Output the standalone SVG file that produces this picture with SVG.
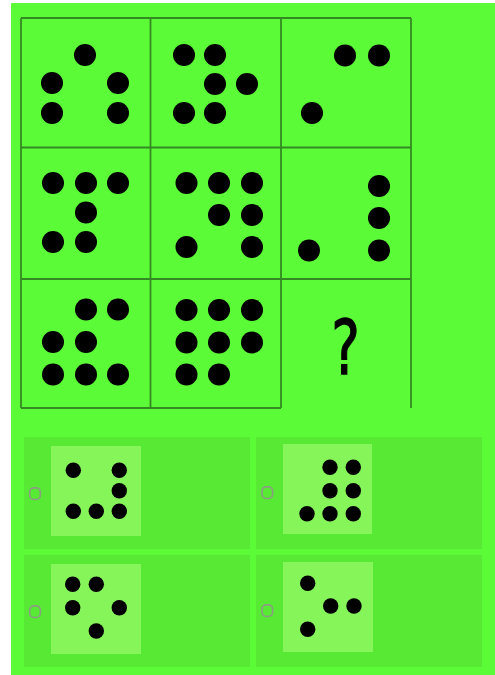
<svg xmlns="http://www.w3.org/2000/svg" width="495" height="675" viewBox="0 0 495 675">
<style>
.bg{fill:#5cfb38}
.ln{stroke:#348a22;stroke-width:1.8;fill:none}
.d{fill:#000}
.panel{fill:#57e933}
.sq{fill:#86f55a}
.radio{fill:none;stroke:#8c9c84;stroke-width:1.6}
.q{font-family:"DejaVu Sans",sans-serif;font-size:75px;fill:#000;stroke:#000;stroke-width:1.3}
</style>
<defs>
<rect id="rb" x="-5.3" y="-5.8" width="10.6" height="11.6" rx="4.2"/>
</defs>
<rect x="0" y="0" width="495" height="675" fill="#ffffff"/>
<rect class="bg" x="11" y="3" width="484" height="672"/>
<g id="grid-lines">
<path class="ln" d="M21,18V408M150.5,18V408M281,18V408M411,18V408M21,18H411M21,147.5H411M21,279H411M21,408H281"/>
</g>
<g id="cell-1-1">
<circle class="d" cx="85" cy="55" r="11"/><circle class="d" cx="52" cy="83" r="11"/><circle class="d" cx="118" cy="83" r="11"/><circle class="d" cx="52" cy="113" r="11"/><circle class="d" cx="118" cy="113" r="11"/>
</g>
<g id="cell-1-2">
<circle class="d" cx="184" cy="55" r="11"/><circle class="d" cx="215" cy="55" r="11"/><circle class="d" cx="215" cy="84" r="11"/><circle class="d" cx="247" cy="84" r="11"/><circle class="d" cx="184" cy="113" r="11"/><circle class="d" cx="215" cy="113" r="11"/>
</g>
<g id="cell-1-3">
<circle class="d" cx="345" cy="55.5" r="11"/><circle class="d" cx="379" cy="55.5" r="11"/><circle class="d" cx="312" cy="113" r="11"/>
</g>
<g id="cell-2-1">
<circle class="d" cx="53" cy="183" r="11"/><circle class="d" cx="86" cy="183" r="11"/><circle class="d" cx="118" cy="183" r="11"/><circle class="d" cx="86" cy="212.5" r="11"/><circle class="d" cx="53" cy="242" r="11"/><circle class="d" cx="86" cy="242" r="11"/>
</g>
<g id="cell-2-2">
<circle class="d" cx="186.5" cy="183" r="11"/><circle class="d" cx="219" cy="183" r="11"/><circle class="d" cx="252" cy="183" r="11"/><circle class="d" cx="219" cy="215" r="11"/><circle class="d" cx="252" cy="215" r="11"/><circle class="d" cx="186.5" cy="247" r="11"/><circle class="d" cx="252" cy="247" r="11"/>
</g>
<g id="cell-2-3">
<circle class="d" cx="379" cy="186" r="11"/><circle class="d" cx="379" cy="218" r="11"/><circle class="d" cx="379" cy="250.5" r="11"/><circle class="d" cx="309" cy="250.5" r="11"/>
</g>
<g id="cell-3-1">
<circle class="d" cx="86" cy="309.5" r="11"/><circle class="d" cx="118" cy="309.5" r="11"/><circle class="d" cx="53" cy="342" r="11"/><circle class="d" cx="86" cy="342" r="11"/><circle class="d" cx="53" cy="374.5" r="11"/><circle class="d" cx="86" cy="374.5" r="11"/><circle class="d" cx="118" cy="374.5" r="11"/>
</g>
<g id="cell-3-2">
<circle class="d" cx="186.5" cy="310" r="11"/><circle class="d" cx="219" cy="310" r="11"/><circle class="d" cx="252" cy="310" r="11"/><circle class="d" cx="186.5" cy="342.5" r="11"/><circle class="d" cx="219" cy="342.5" r="11"/><circle class="d" cx="252" cy="342.5" r="11"/><circle class="d" cx="186.5" cy="374.5" r="11"/><circle class="d" cx="219" cy="374.5" r="11"/>
</g>
<g id="cell-3-3">
<text class="q" transform="translate(345.5,373.5) scale(0.72,1)" x="0" y="0" text-anchor="middle">?</text>
</g>
<g id="option-a">
<rect class="panel" x="24" y="437" width="226" height="112"/>
<use href="#rb" class="radio" x="35" y="493.7"/>
<rect class="sq" x="51" y="446" width="90" height="90"/>
<circle class="d" cx="73.3" cy="470.3" r="7.7"/><circle class="d" cx="119.3" cy="470.3" r="7.7"/><circle class="d" cx="119.3" cy="490.7" r="7.7"/><circle class="d" cx="73.3" cy="511.3" r="7.7"/><circle class="d" cx="96.3" cy="511.3" r="7.7"/><circle class="d" cx="119.3" cy="511.3" r="7.7"/>
</g>
<g id="option-b">
<rect class="panel" x="256" y="437" width="226" height="112"/>
<use href="#rb" class="radio" x="267.3" y="492.7"/>
<rect class="sq" x="283" y="444" width="89" height="90"/>
<circle class="d" cx="330" cy="467.3" r="7.7"/><circle class="d" cx="353.3" cy="467.3" r="7.7"/><circle class="d" cx="330" cy="490.7" r="7.7"/><circle class="d" cx="353.3" cy="490.7" r="7.7"/><circle class="d" cx="307" cy="513.7" r="7.7"/><circle class="d" cx="330" cy="513.7" r="7.7"/><circle class="d" cx="353.3" cy="513.7" r="7.7"/>
</g>
<g id="option-c">
<rect class="panel" x="24" y="555" width="226" height="112"/>
<use href="#rb" class="radio" x="35" y="611.7"/>
<rect class="sq" x="51" y="564" width="90" height="90"/>
<circle class="d" cx="72.7" cy="584.3" r="7.7"/><circle class="d" cx="96.3" cy="584.3" r="7.7"/><circle class="d" cx="72.7" cy="607.7" r="7.7"/><circle class="d" cx="119.3" cy="607.7" r="7.7"/><circle class="d" cx="96.3" cy="631" r="7.7"/>
</g>
<g id="option-d">
<rect class="panel" x="256" y="555" width="226" height="112"/>
<use href="#rb" class="radio" x="267.3" y="610.7"/>
<rect class="sq" x="283" y="562" width="90" height="90"/>
<circle class="d" cx="307.7" cy="583.3" r="7.7"/><circle class="d" cx="330.7" cy="606" r="7.7"/><circle class="d" cx="354" cy="606" r="7.7"/><circle class="d" cx="307.7" cy="629.3" r="7.7"/>
</g>
</svg>
